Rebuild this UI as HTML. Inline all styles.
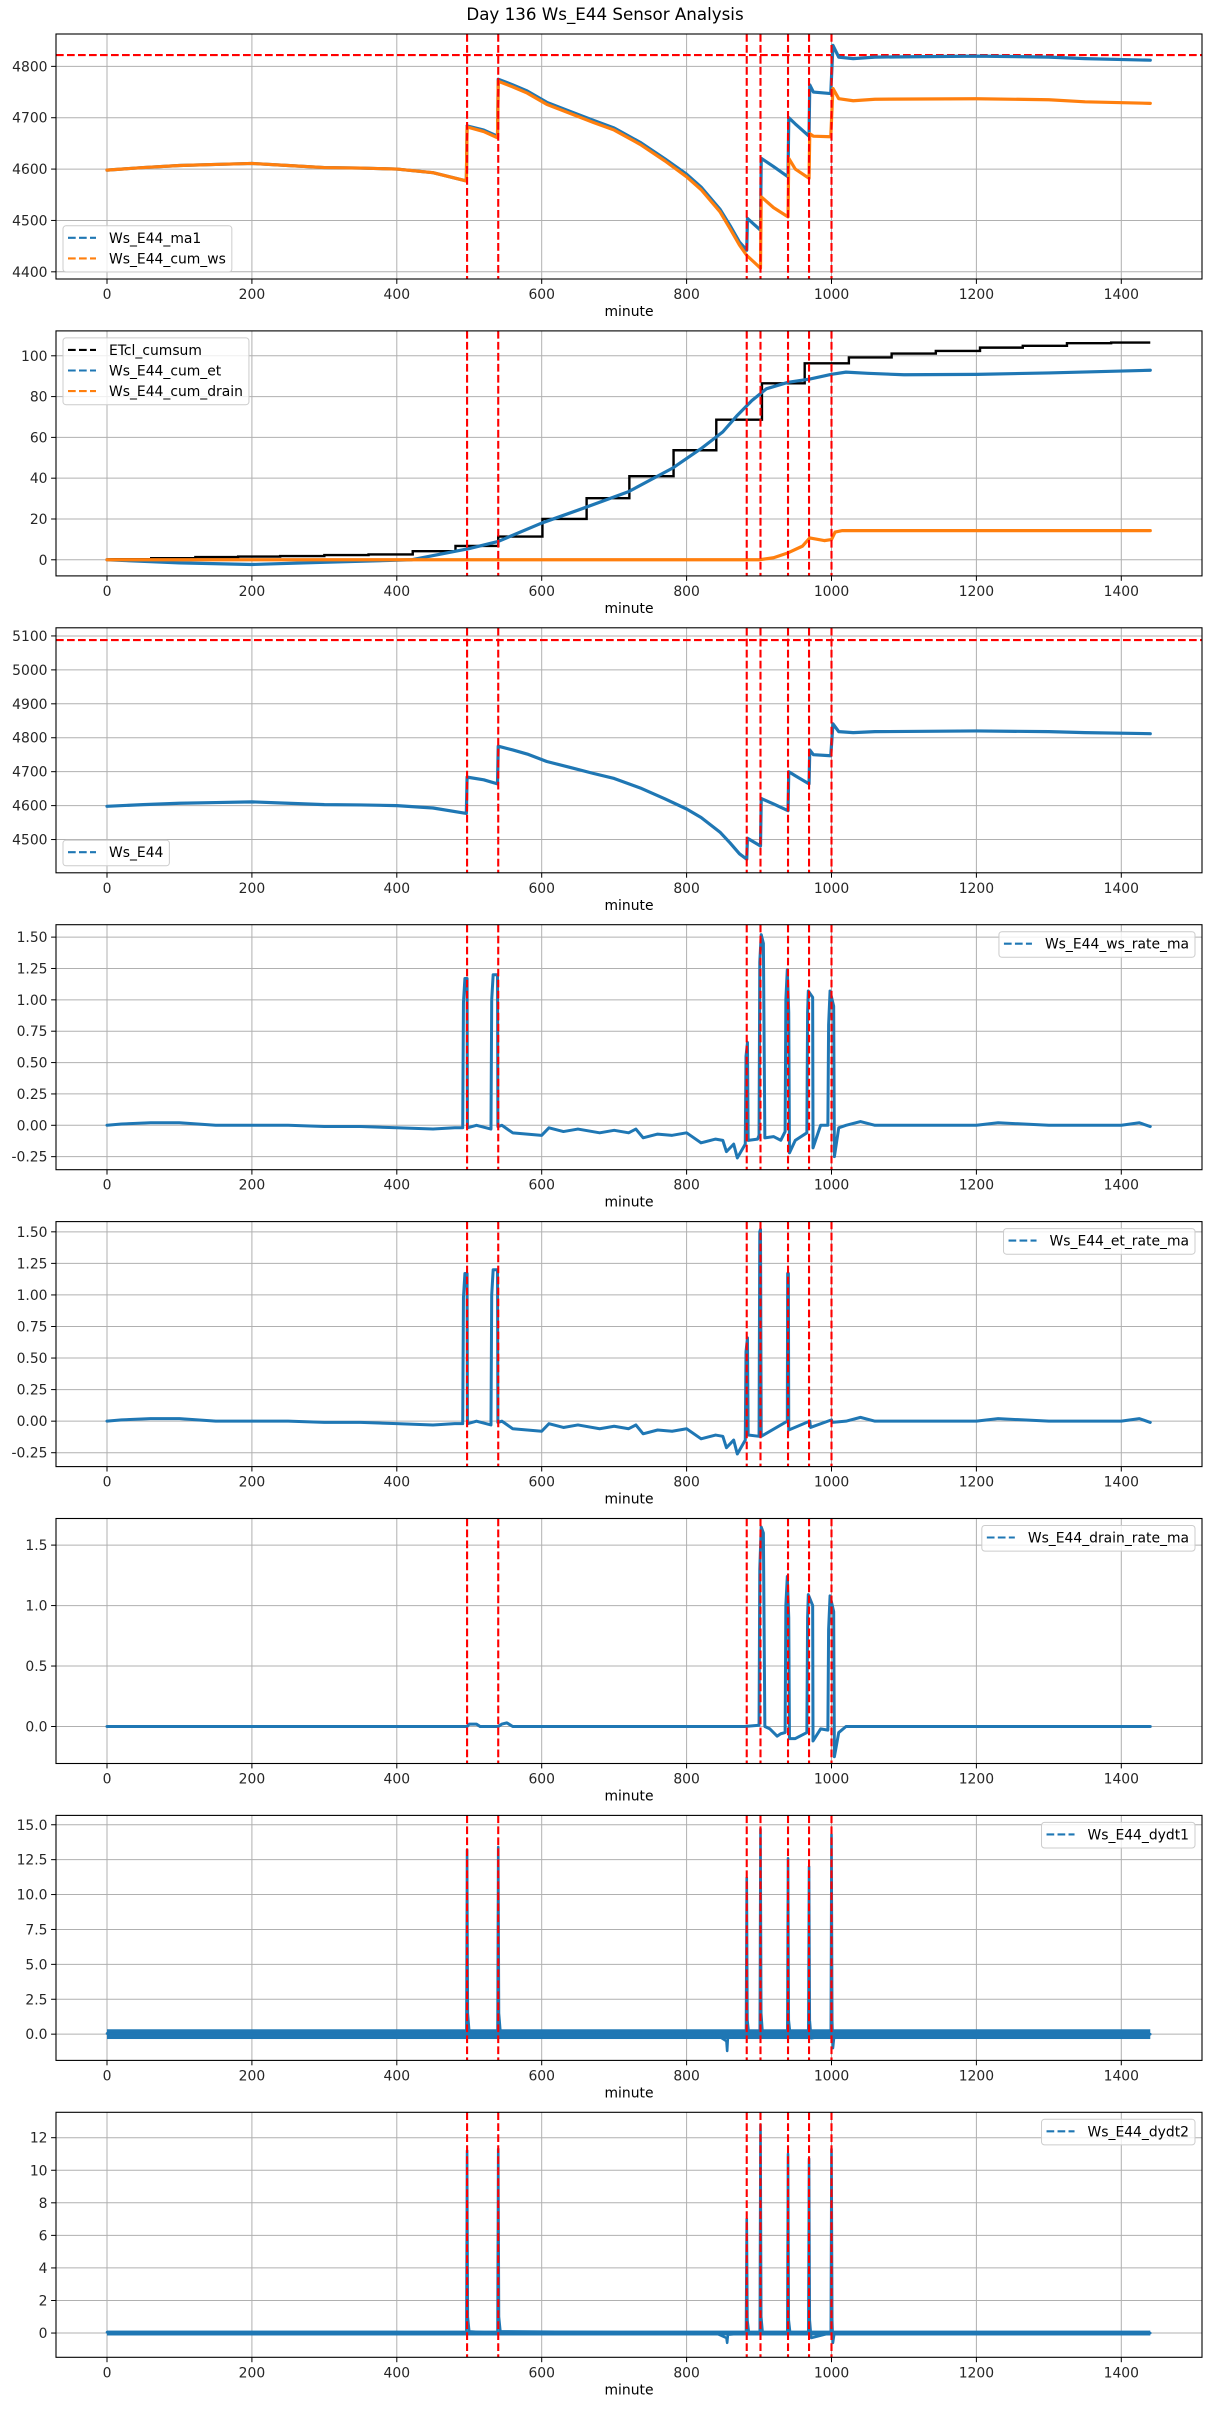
<!DOCTYPE html>
<html><head><meta charset="utf-8"><title>Day 136 Ws_E44 Sensor Analysis</title>
<style>
html,body{margin:0;padding:0;background:#fff;}
svg{display:block;font-family:"DejaVu Sans","Liberation Sans",sans-serif;}
</style></head>
<body>
<svg id="fig" width="1211" height="2411" viewBox="0 0 1211 2411" xmlns="http://www.w3.org/2000/svg">
<rect x="0" y="0" width="1211" height="2411" fill="#fff"/>
<text x="605" y="20" text-anchor="middle" font-size="16.7" fill="#000">Day 136 Ws_E44 Sensor Analysis</text>
</svg>
<script>
// ---------- shared data ----------
const xTicks = [0,200,400,600,800,1000,1200,1400];
const eventMinutes = [497,540,883,902,940,969,1000];

// panel 1
const p1Ticks = [4400,4500,4600,4700,4800];
const p1HLine = 4822;
const ma1Min = [0,50,100,150,200,250,300,350,400,450,496,497,520,539,540,560,580,607,640,671,700,736,770,800,820,846,860,873,883,884,902,903,920,940,941,950,969,970,975,999,1002,1010,1030,1060,1200,1300,1350,1440];
const ma1Val = [4598,4603,4607,4609,4611,4607,4603,4602,4600,4593,4577,4684,4676,4664,4775,4764,4752,4730,4712,4695,4680,4652,4620,4590,4565,4522,4490,4458,4442,4504,4481,4621,4605,4585,4700,4688,4664,4764,4750,4747,4841,4818,4815,4818,4820,4818,4815,4812];
const cumWsMin = [0,50,100,150,200,250,300,350,400,450,496,497,520,539,540,560,580,607,640,671,700,736,770,800,820,846,860,873,883,902,903,920,940,941,950,969,970,975,999,1002,1010,1030,1060,1200,1300,1350,1440];
const cumWsVal = [4598,4603,4607,4609,4611,4607,4603,4602,4600,4593,4577,4682,4673,4661,4771,4760,4748,4726,4708,4691,4676,4648,4616,4585,4560,4517,4484,4452,4432,4407,4546,4525,4507,4621,4600,4582,4669,4664,4663,4757,4737,4733,4736,4737,4735,4731,4728];

// panel 2
const p2Ticks = [0,20,40,60,80,100];
const etclMin = [0,61,122,181,239,300,361,422,481,540,601,662,721,782,841,904,963,1024,1083,1144,1205,1264,1325,1386,1440];
const etclVal = [0.3,0.8,1.3,1.6,1.8,2.3,2.6,4.2,6.8,11.4,20,30.2,41,53.7,68.7,86.5,96.3,99.2,101.1,102.4,104,104.9,106.2,106.5,106.5];
const cumEtMin = [0,100,200,300,420,500,540,600,660,720,780,820,850,870,890,910,940,970,1000,1020,1050,1100,1200,1300,1440];
const cumEtVal = [0,-1.5,-2.3,-1.2,0,5.5,9,18,25.6,33.4,44.8,54.5,62.7,70.8,78,83.8,87,88.6,90.9,92,91.4,90.7,90.9,91.6,92.9];
const cumDrainMin = [0,900,920,940,960,970,990,1000,1005,1015,1440];
const cumDrainVal = [0,0,1,3.4,6.7,10.7,9.4,9.9,13.6,14.3,14.3];

// panel 3
const p3Ticks = [4500,4600,4700,4800,4900,5000,5100];
const p3HLine = 5088;

// panel 4
const rateTicks = [-0.25,0,0.25,0.5,0.75,1.0,1.25,1.5];
const wsRateMin = [0,20,60,100,150,200,250,300,350,400,450,480,491,492,494,497,497.5,510,530,531,533,539,539.5,545,560,600,610,630,650,680,700,720,730,740,760,780,800,820,840,850,855,865,870,878,881,882,884,885,898,900,901,903,906,908,920,930,936,937,939,941,942,950,966,967,968,974,974.5,985,995,996,998,1003,1004,1010,1020,1040,1060,1100,1200,1230,1300,1400,1425,1440];
const wsRateVal = [0,0.01,0.02,0.02,0,0,0,-0.01,-0.01,-0.02,-0.03,-0.02,-0.02,0.98,1.17,1.17,-0.02,0,-0.03,1.0,1.2,1.2,-0.01,0,-0.06,-0.08,-0.02,-0.05,-0.03,-0.06,-0.04,-0.06,-0.03,-0.1,-0.07,-0.08,-0.06,-0.14,-0.11,-0.12,-0.21,-0.15,-0.26,-0.18,-0.15,0.55,0.66,-0.12,-0.11,-0.08,1.3,1.52,1.45,-0.1,-0.09,-0.12,-0.05,1.0,1.24,0.9,-0.22,-0.12,-0.06,0.9,1.07,1.02,-0.18,0,0,0.8,1.07,0.95,-0.25,-0.02,0,0.03,0,0,0,0.02,0,0,0.02,-0.01];

// panel 5
const etRateMin = [0,20,60,100,150,200,250,300,350,400,450,480,491,492,494,497,497.5,510,530,531,533,539,539.5,545,560,600,610,630,650,680,700,720,730,740,760,780,800,820,840,850,855,865,870,878,881,882,884,885,900,901,902,903,939,939.5,940.5,941,970,971,1000,1001,1020,1040,1060,1100,1200,1230,1300,1400,1425,1440];
const etRateVal = [0,0.01,0.02,0.02,0,0,0,-0.01,-0.01,-0.02,-0.03,-0.02,-0.02,0.98,1.17,1.17,-0.02,0,-0.03,1.0,1.2,1.2,-0.01,0,-0.06,-0.08,-0.02,-0.05,-0.03,-0.06,-0.04,-0.06,-0.03,-0.1,-0.07,-0.08,-0.06,-0.14,-0.11,-0.12,-0.21,-0.15,-0.26,-0.18,-0.15,0.55,0.66,-0.11,-0.12,1.5,1.52,-0.12,0,1.17,1.17,-0.07,0,-0.05,0.01,-0.01,0,0.03,0,0,0,0.02,0,0,0.02,-0.01];

// panel 6
const drainTicks = [0,0.5,1.0,1.5];
const drainMin = [0,497,500,510,515,540,545,552,560,575,880,900,901,903,906,908,915,925,930,936,937,939,941,942,950,966,967,968,974,974.5,985,995,996,998,1003,1004,1010,1020,1040,1440];
const drainVal = [0,0,0.02,0.02,0,0,0.02,0.03,0,0,0,0.01,1.3,1.65,1.6,0,-0.02,-0.08,-0.06,-0.05,1.0,1.24,0.9,-0.1,-0.1,-0.05,0.9,1.09,1.0,-0.12,-0.02,-0.03,0.8,1.08,0.95,-0.25,-0.05,0,0,0];

// panel 7
const dydt1Ticks = [0,2.5,5,7.5,10,12.5,15];
const dydt1Min = [0,400,496,497,498,500,539,540,541,543,840,855,856,857,882,883,884,886,901,902,903,905,939,940,941,943,968,969,970,972,999,1000,1001,1002,1004,1440];
const dydt1Val = [0.05,0.05,0,13.2,1.5,0.2,0,13.4,1.5,0.2,0,-0.5,-1.2,-0.2,0,11.2,1.0,0,0,14.7,1.5,0,0,12.6,1,0,0,12.0,1,-0.3,0,14.3,1,-1,0,0];
const dydt1Noise = 0.35;

// panel 8
const dydt2Ticks = [0,2,4,6,8,10,12];
const dydt2Min = [0,400,496,497,498,500,539,540,541,543,840,855,856,857,882,883,884,886,901,902,903,905,939,940,941,943,968,969,970,972,999,1000,1001,1002,1004,1440];
const dydt2Val = [0.05,0.05,0,11.2,1.0,0.1,0,11.3,1.0,0.1,0,-0.3,-0.6,-0.1,0,7.0,0.8,0,0,12.8,1.0,0,0,11.0,0.8,0,0,10.7,0.8,-0.3,0,11.3,0.8,-0.6,0,0];
const dydt2Noise = 0.15;

// ---------- drawing ----------
const NS = "http://www.w3.org/2000/svg";
const svg = document.getElementById('fig');
const AX_L = 56, AX_R = 1202, AX_H = 245, XMIN = -70.4, XMAX = 1511.4;
const BLUE = '#1f77b4', ORANGE = '#ff7f0e';
function el(tag, attrs, parent){
  const e = document.createElementNS(NS, tag);
  for (const k in attrs) e.setAttribute(k, attrs[k]);
  (parent || svg).appendChild(e);
  return e;
}
function xPx(m){ return AX_L + (m - XMIN) / (XMAX - XMIN) * (AX_R - AX_L); }
function fmtTick(v, dec){ const s = v.toFixed(dec); return s.replace('-', '-'); }

function makePanel(idx, ylim, ticks, dec){
  const top = 34 + idx * 296.9, bot = top + AX_H;
  const y = v => bot - (v - ylim[0]) / (ylim[1] - ylim[0]) * AX_H;
  const g = el('g', {});
  
  
  const clipId = 'clip' + idx;
  const cp = el('clipPath', {id: clipId}, g);
  el('rect', {x: AX_L, y: top, width: AX_R - AX_L, height: AX_H}, cp);
  // grid
  xTicks.forEach(t => {
    const gl = el('line', {x1: xPx(t), x2: xPx(t), y1: top, y2: bot, stroke: '#b0b0b0', 'stroke-width': 1}, g);
    
    
    const tk = el('line', {x1: xPx(t), x2: xPx(t), y1: bot, y2: bot + 4.9, stroke: '#000', 'stroke-width': 1}, g);
    
    
    const tl = el('text', {x: xPx(t), y: bot + 20, 'text-anchor': 'middle', 'font-size': 13.9, fill: '#262626'}, g);
    
    
    tl.textContent = String(t);
  });
  ticks.forEach(t => {
    const gl = el('line', {x1: AX_L, x2: AX_R, y1: y(t), y2: y(t), stroke: '#b0b0b0', 'stroke-width': 1}, g);
    
    
    const tk = el('line', {x1: AX_L - 4.9, x2: AX_L, y1: y(t), y2: y(t), stroke: '#000', 'stroke-width': 1}, g);
    
    
    const tl = el('text', {x: AX_L - 8.5, y: y(t) + 5, 'text-anchor': 'end', 'font-size': 13.9, fill: '#262626'}, g);
    
    
    tl.textContent = fmtTick(t, dec);
  });
  const xl = el('text', {x: (AX_L + AX_R) / 2, y: bot + 37, 'text-anchor': 'middle', 'font-size': 13.9, fill: '#000'}, g);
  
  
  xl.textContent = 'minute';
  const plot = el('g', {'clip-path': 'url(#' + clipId + ')'}, g);
  return {g, plot, y, top, bot, idx};
}
function drawLine(P, mins, vals, color, width, name){
  const pts = mins.map((m, i) => xPx(m).toFixed(2) + ',' + P.y(vals[i]).toFixed(2)).join(' ');
  const pl = el('polyline', {points: pts, fill: 'none', stroke: color, 'stroke-width': width, 'stroke-linejoin': 'round', 'stroke-linecap': 'round'}, P.plot);
  
  
  return pl;
}
function drawStep(P, mins, vals, color, name){
  let d = '';
  for (let i = 0; i < mins.length; i++){
    const x = xPx(mins[i]), yy = P.y(vals[i]);
    if (i === 0) d += 'M' + x + ' ' + yy;
    else d += ' H' + x + ' V' + yy;
  }
  const p = el('path', {d, fill: 'none', stroke: color, 'stroke-width': 2.4}, P.plot);
  
  
}
function drawNoise(P, amp, name){
  const r = el('rect', {x: xPx(0), y: P.y(amp), width: xPx(1440) - xPx(0), height: P.y(-amp) - P.y(amp), fill: BLUE}, P.plot);
  
  
}
function drawEvents(P){
  eventMinutes.forEach(m => {
    const l = el('line', {x1: xPx(m), x2: xPx(m), y1: P.top, y2: P.bot, stroke: '#ff0000', 'stroke-width': 2.1, 'stroke-dasharray': '7.7 3.3'}, P.plot);
    
    
  });
}
function drawHLine(P, v){
  const l = el('line', {x1: AX_L, x2: AX_R, y1: P.y(v), y2: P.y(v), stroke: '#ff0000', 'stroke-width': 2.1, 'stroke-dasharray': '7.7 3.3'}, P.plot);
  
  
}
function frame(P){
  const r = el('rect', {x: AX_L, y: P.top, width: AX_R - AX_L, height: AX_H, fill: 'none', stroke: '#000', 'stroke-width': 1.1}, P.g);
  
  
}
function legend(P, entries, pos){
  const g = el('g', {}, P.g);
  
  
  const rowH = 20.6, h = entries.length * rowH + 5;
  const box = el('rect', {rx: 3, ry: 3, fill: '#fff', 'fill-opacity': 0.8, stroke: '#cccccc', 'stroke-width': 1}, g);
  const texts = [];
  entries.forEach((e, i) => {
    const t = el('text', {'font-size': 13.9, fill: '#000'}, g);
    
    
    t.textContent = e[0];
    texts.push(t);
  });
  const tw = Math.max(...texts.map(t => t.getComputedTextLength()));
  const w = 46 + tw + 6;
  let x0, y0;
  if (pos === 'll'){ x0 = AX_L + 7; y0 = P.bot - 7 - h; }
  else if (pos === 'ul'){ x0 = AX_L + 7; y0 = P.top + 7; }
  else { x0 = AX_R - 7 - w; y0 = P.top + 7; }
  box.setAttribute('x', x0); box.setAttribute('y', y0); box.setAttribute('width', w); box.setAttribute('height', h);
  entries.forEach((e, i) => {
    const cy = y0 + 12 + i * rowH;
    const ln = el('line', {x1: x0 + 5, x2: x0 + 33, y1: cy, y2: cy, stroke: e[1], 'stroke-width': 2.1, 'stroke-dasharray': '7.7 3.3'}, g);
    
    
    texts[i].setAttribute('x', x0 + 46);
    texts[i].setAttribute('y', cy + 5);
  });
}

// Panel 1
let P = makePanel(0, [4386, 4863], p1Ticks, 0);
drawHLine(P, p1HLine);
drawLine(P, ma1Min, ma1Val, BLUE, 3.2, 'series-ws-e44-ma1');
drawLine(P, cumWsMin, cumWsVal, ORANGE, 3.2, 'series-ws-e44-cum-ws');
drawEvents(P); frame(P);
legend(P, [['Ws_E44_ma1', BLUE], ['Ws_E44_cum_ws', ORANGE]], 'll');

// Panel 2
P = makePanel(1, [-7.9, 112.2], p2Ticks, 0);
drawStep(P, etclMin, etclVal, '#000', 'series-etcl-cumsum');
drawLine(P, cumEtMin, cumEtVal, BLUE, 3.2, 'series-ws-e44-cum-et');
drawLine(P, cumDrainMin, cumDrainVal, ORANGE, 3.2, 'series-ws-e44-cum-drain');
drawEvents(P); frame(P);
legend(P, [['ETcl_cumsum', '#000'], ['Ws_E44_cum_et', BLUE], ['Ws_E44_cum_drain', ORANGE]], 'ul');

// Panel 3
P = makePanel(2, [4402, 5124], p3Ticks, 0);
drawHLine(P, p3HLine);
drawLine(P, ma1Min, ma1Val, BLUE, 3.2, 'series-ws-e44');
drawEvents(P); frame(P);
legend(P, [['Ws_E44', BLUE]], 'll');

// Panel 4
P = makePanel(3, [-0.354, 1.599], rateTicks, 2);
drawLine(P, wsRateMin, wsRateVal, BLUE, 3, 'series-ws-rate-ma');
drawEvents(P); frame(P);
legend(P, [['Ws_E44_ws_rate_ma', BLUE]], 'ur');

// Panel 5
P = makePanel(4, [-0.36, 1.581], rateTicks, 2);
drawLine(P, etRateMin, etRateVal, BLUE, 3, 'series-et-rate-ma');
drawEvents(P); frame(P);
legend(P, [['Ws_E44_et_rate_ma', BLUE]], 'ur');

// Panel 6
P = makePanel(5, [-0.306, 1.72], drainTicks, 1);
drawLine(P, drainMin, drainVal, BLUE, 3, 'series-drain-rate-ma');
drawEvents(P); frame(P);
legend(P, [['Ws_E44_drain_rate_ma', BLUE]], 'ur');

// Panel 7
P = makePanel(6, [-1.88, 15.67], dydt1Ticks, 1);
drawNoise(P, dydt1Noise, 'dydt1-noise-band');
drawLine(P, dydt1Min, dydt1Val, BLUE, 2.6, 'series-dydt1');
drawEvents(P); frame(P);
legend(P, [['Ws_E44_dydt1', BLUE]], 'ur');

// Panel 8
P = makePanel(7, [-1.49, 13.56], dydt2Ticks, 0);
drawNoise(P, dydt2Noise, 'dydt2-noise-band');
drawLine(P, dydt2Min, dydt2Val, BLUE, 2.6, 'series-dydt2');
drawEvents(P); frame(P);
legend(P, [['Ws_E44_dydt2', BLUE]], 'ur');
</script>
</body></html>
